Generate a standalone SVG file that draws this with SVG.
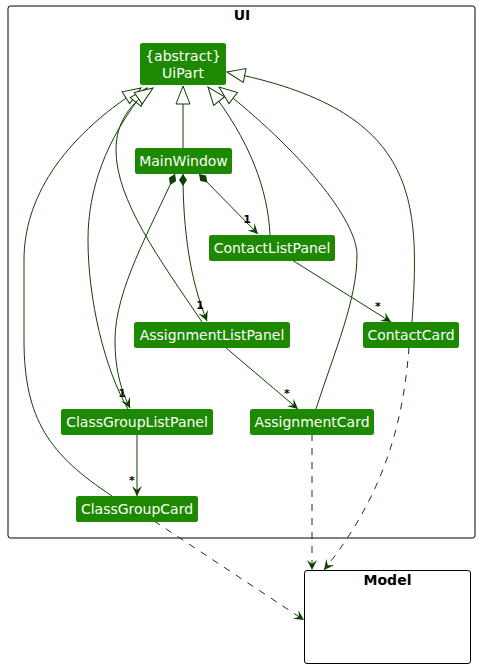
<svg xmlns="http://www.w3.org/2000/svg" width="480" height="669" viewBox="0 0 480 669">
<style>
.pkg{fill:#fff;stroke:#000;stroke-width:1}
.ptitle{font-family:"DejaVu Sans",sans-serif;font-size:14px;font-weight:bold;fill:#000;text-anchor:middle}
.node rect{fill:#1D8900}
.node text{font-family:"DejaVu Sans",sans-serif;font-size:14px;fill:#fff;text-anchor:middle}
.e{fill:none;stroke:#0E4100;stroke-width:1}
.d{stroke-dasharray:7,7}
.lbl{font-family:"DejaVu Sans",sans-serif;font-size:11px;font-weight:bold;fill:#000;text-anchor:middle}
</style>
<defs>
<marker id="inh" markerUnits="userSpaceOnUse" viewBox="-20 -9 22 18" markerWidth="22" markerHeight="18" refX="0" refY="0" orient="auto">
<path d="M0,0 L-18,-7 L-18,7 Z" fill="#fff" stroke="#0E4100" stroke-width="1"/>
</marker>
<marker id="arr" markerUnits="userSpaceOnUse" viewBox="-11 -6 12 12" markerWidth="12" markerHeight="12" refX="0" refY="0" orient="auto">
<path d="M0,0 L-10,-5 L-6,0 L-10,5 Z" fill="#0E4100"/>
</marker>
<marker id="dia" markerUnits="userSpaceOnUse" viewBox="-1 -6 14 12" markerWidth="14" markerHeight="12" refX="0" refY="0" orient="auto">
<path d="M0,0 L6,-4 L12,0 L6,4 Z" fill="#0E4100"/>
</marker>
</defs>

<g id="pkg-UI">
<rect class="pkg" x="8" y="6" width="467" height="532" rx="2.5"/>
<text class="ptitle" x="242" y="20">UI</text>
</g>
<g id="pkg-Model">
<rect class="pkg" x="304.5" y="570.5" width="166" height="93" rx="2.5"/>
<text class="ptitle" x="387.5" y="585">Model</text>
</g>

<g id="connectors">
<!-- inheritance -->
<path class="e" d="M183,148 L183,86" marker-end="url(#inh)"/>
<path class="e" d="M112,496 C50,455 24,420 24,340 L24,260 C24,200 60,140 141,88" marker-end="url(#inh)"/>
<path class="e" d="M128,409 C105,370 88,300 88,240 C88,190 105,140 147,88" marker-end="url(#inh)"/>
<path class="e" d="M202,322 C160,260 116,200 116,150 C116,122 130,104 153,88" marker-end="url(#inh)"/>
<path class="e" d="M270,235 C268,190 250,140 208,87" marker-end="url(#inh)"/>
<path class="e" d="M316,409 C335,350 357,300 357,255 C357,220 300,150 219,87" marker-end="url(#inh)"/>
<path class="e" d="M412,322 C420,200 420,110 227,72" marker-end="url(#inh)"/>
<!-- composition -->
<path class="e" d="M175,174 C150,230 115,290 115,340 C115,372 122,392 130,408" marker-start="url(#dia)" marker-end="url(#arr)"/>
<path class="e" d="M183,174 C183,230 190,280 207,321" marker-start="url(#dia)" marker-end="url(#arr)"/>
<path class="e" d="M199,174 L258,234" marker-start="url(#dia)" marker-end="url(#arr)"/>
<!-- associations -->
<path class="e" d="M292,260 L391,322" marker-end="url(#arr)"/>
<path class="e" d="M225,347 L298,409" marker-end="url(#arr)"/>
<path class="e" d="M137,434 L137,496" marker-end="url(#arr)"/>
<!-- dependencies -->
<path class="e d" d="M409,347 C403,430 380,500 324,570" marker-end="url(#arr)"/>
<path class="e d" d="M312,434 L312,570" marker-end="url(#arr)"/>
<path class="e d" d="M154,521 L304,620" marker-end="url(#arr)"/>
<!-- labels -->
<text class="lbl" x="247" y="223">1</text>
<text class="lbl" x="200" y="309">1</text>
<text class="lbl" x="122" y="397">1</text>
<text class="lbl" x="378" y="310">*</text>
<text class="lbl" x="287" y="397">*</text>
<text class="lbl" x="132" y="484">*</text>
</g>

<g id="UiPart" class="node">
<rect x="140" y="43" width="86" height="42" rx="2.5"/>
<text x="183" y="61">{abstract}</text>
<text x="183" y="78">UiPart</text>
</g>
<g id="MainWindow" class="node">
<rect x="135" y="148" width="97" height="26" rx="2.5"/>
<text x="183.5" y="166">MainWindow</text>
</g>
<g id="ContactListPanel" class="node">
<rect x="209" y="235" width="126" height="26" rx="2.5"/>
<text x="272" y="253">ContactListPanel</text>
</g>
<g id="AssignmentListPanel" class="node">
<rect x="134" y="322" width="156" height="26" rx="2.5"/>
<text x="212" y="340">AssignmentListPanel</text>
</g>
<g id="ContactCard" class="node">
<rect x="363" y="322" width="96" height="26" rx="2.5"/>
<text x="411" y="340">ContactCard</text>
</g>
<g id="ClassGroupListPanel" class="node">
<rect x="61" y="409" width="152" height="26" rx="2.5"/>
<text x="137" y="427">ClassGroupListPanel</text>
</g>
<g id="AssignmentCard" class="node">
<rect x="250" y="409" width="124" height="26" rx="2.5"/>
<text x="312" y="427">AssignmentCard</text>
</g>
<g id="ClassGroupCard" class="node">
<rect x="76" y="496" width="122" height="26" rx="2.5"/>
<text x="137" y="514">ClassGroupCard</text>
</g>
</svg>
